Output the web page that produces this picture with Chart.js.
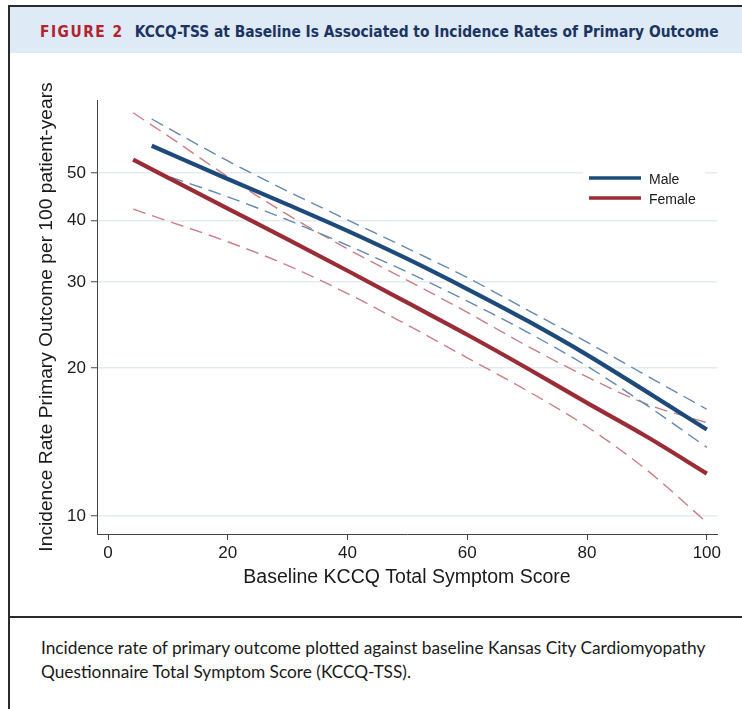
<!DOCTYPE html>
<html><head><meta charset="utf-8">
<script src="https://cdn.jsdelivr.net/npm/chart.js@4.4.1/dist/chart.umd.min.js"></script>
<style>
html,body{margin:0;padding:0;background:#fff;width:742px;height:709px;overflow:hidden;position:relative;}
#frameTop{position:absolute;left:8px;top:5px;width:734px;height:1.5px;background:#2b2b2b;z-index:5;}
#frameLeft{position:absolute;left:8px;top:5px;width:1.5px;height:704px;background:#2b2b2b;z-index:5;}
#band{position:absolute;left:9.5px;top:6.5px;width:733px;height:46px;background:#deeaf6;}
#title{position:absolute;left:40px;top:21px;font-family:"DejaVu Sans Condensed","DejaVu Sans";font-weight:bold;font-size:15px;white-space:nowrap;color:#1c3461;line-height:22px;}
#title .fig{color:#b3232f;letter-spacing:1.5px;}
#title .gap{display:inline-block;width:11px;}
#sep{position:absolute;left:8px;top:616px;width:734px;height:1.5px;background:#2b2b2b;z-index:5;}
#caption{position:absolute;left:41px;top:636px;font-family:Lato,"Open Sans",sans-serif;font-size:16px;line-height:24px;color:#1a1a1a;white-space:nowrap;}
#wrap{position:absolute;left:0;top:60px;width:742px;height:556px;z-index:1;}
</style>
</head>
<body>
<div id="frameTop"></div><div id="frameLeft"></div>
<div id="band"></div>
<div id="title"><span class="fig" id="figLabel">FIGURE 2</span><span class="gap"></span><span id="mainTitle">KCCQ-TSS at Baseline Is Associated to Incidence Rates of Primary Outcome</span></div>
<div id="sep"></div>
<div id="caption"><span id="cap1">Incidence rate of primary outcome plotted against baseline Kansas City Cardiomyopathy</span><br><span id="cap2">Questionnaire Total Symptom Score (KCCQ-TSS).</span></div>
<div id="wrap"><canvas id="c" width="742" height="556"></canvas></div>
<script>
// ---- data ----
const xTicks = [0, 20, 40, 60, 80, 100];
const yTicks = [10, 20, 30, 40, 50];

const xMale       = [7.3, 20, 30, 40, 50, 60, 70, 80, 90, 100];
const maleRate    = [56.8, 48.6, 43.1, 38.1, 33.4, 29.0, 25.0, 21.3, 17.9, 15.0];
const maleUpper   = [64.4, 52.9, 45.9, 40.1, 35.1, 30.6, 26.3, 22.6, 19.3, 16.5];
const maleLower   = [50.5, 44.7, 40.1, 35.6, 31.4, 27.4, 23.7, 20.2, 16.8, 13.8];

const xFemale     = [4.2, 10, 20, 30, 40, 50, 60, 70, 80, 90, 100];
const femaleRate  = [53.2, 48.9, 42.3, 36.6, 31.6, 27.2, 23.4, 20.0, 17.0, 14.5, 12.2];
const femaleUpper = [66.3, 59.5, 49.1, 41.1, 35.0, 30.2, 26.0, 22.2, 19.2, 16.9, 15.5];
const femaleLower = [42.2, 39.9, 36.2, 32.4, 28.4, 24.5, 21.0, 18.0, 15.2, 12.4, 9.7];

const seriesNames = ['Male', 'Female'];

// ---- styling ----
const MALE = '#1d4a7b', FEMALE = '#9a2c35';
const MALE_CI = '#6688b0', FEMALE_CI = '#c97f83';
const pts = (xs, ys) => xs.map((x, i) => ({x, y: ys[i]}));

const solid = (label, xs, ys, color) => ({
  label, data: pts(xs, ys), borderColor: color, backgroundColor: color,
  borderWidth: 4.2, pointRadius: 0, cubicInterpolationMode: 'monotone', fill: false, borderCapStyle: 'butt'
});
const dashed = (label, xs, ys, color) => ({
  label, data: pts(xs, ys), borderColor: color, backgroundColor: color,
  borderWidth: 1.4, borderDash: [13, 7], pointRadius: 0, cubicInterpolationMode: 'monotone', fill: false
});

const inLegend = {
  id: 'inLegend',
  afterDatasetsDraw(chart) {
    const {ctx, chartArea} = chart;
    const boxL = chartArea.right - 134, boxT = chartArea.top + 64;
    ctx.save();
    ctx.fillStyle = '#ffffff';
    ctx.fillRect(boxL, boxT, 122, 48);
    const cols = [MALE, FEMALE];
    seriesNames.forEach((name, i) => {
      const y = boxT + 14 + i * 20;
      ctx.strokeStyle = cols[i];
      ctx.lineWidth = 3.5;
      ctx.beginPath();
      ctx.moveTo(boxL + 6, y);
      ctx.lineTo(boxL + 58, y);
      ctx.stroke();
      ctx.fillStyle = '#1a1a1a';
      ctx.font = '14px "Liberation Sans", Arial, sans-serif';
      ctx.textBaseline = 'middle';
      ctx.textAlign = 'left';
      ctx.fillText(name, boxL + 66, y + 2);
    });
    ctx.restore();
  }
};

const bgPlugin = {
  id: 'bg',
  beforeDraw(chart) {
    const ctx = chart.ctx; ctx.save(); ctx.fillStyle = '#fff';
    ctx.fillRect(0, 0, chart.width, chart.height); ctx.restore();
  }
};

new Chart(document.getElementById('c'), {
  type: 'line',
  data: {
    datasets: [
      solid(seriesNames[0], xMale, maleRate, MALE),
      solid(seriesNames[1], xFemale, femaleRate, FEMALE),
      dashed('Male upper CI', xMale, maleUpper, MALE_CI),
      dashed('Male lower CI', xMale, maleLower, MALE_CI),
      dashed('Female upper CI', xFemale, femaleUpper, FEMALE_CI),
      dashed('Female lower CI', xFemale, femaleLower, FEMALE_CI)
    ]
  },
  options: {
    responsive: false, animation: false, devicePixelRatio: 1,
    layout: {padding: {left: 0, top: 40, right: 25, bottom: 0}},
    plugins: {legend: {display: false}, tooltip: {enabled: false}},
    scales: {
      x: {
        type: 'linear', min: -1.84, max: 101.7,
        afterBuildTicks: s => { s.ticks = xTicks.map(v => ({value: v})); },
        afterFit: s => { s.height = 82; },
        grid: {drawOnChartArea: false, tickLength: 6, tickColor: '#444', tickWidth: 1},
        border: {color: '#444', width: 1},
        ticks: {color: '#1a1a1a', font: {family: 'Liberation Sans', size: 17}, padding: 3, maxRotation: 0,
                callback: v => String(v)},
        title: {display: true, text: 'Baseline KCCQ Total Symptom Score', color: '#1a1a1a',
                font: {family: 'Liberation Sans', size: 19.5}, padding: {top: 0, bottom: 27}}
      },
      y: {
        type: 'logarithmic', min: 9.19, max: 70.4,
        afterBuildTicks: s => { s.ticks = yTicks.map(v => ({value: v})); },
        afterFit: s => { s.width = 97; },
        grid: {color: '#e3ecf1', lineWidth: 1.5, tickLength: 6, tickColor: '#444', tickWidth: 1},
        border: {color: '#444', width: 1},
        ticks: {color: '#1a1a1a', font: {family: 'Liberation Sans', size: 17}, padding: 5,
                callback: v => String(v)},
        title: {display: true, text: 'Incidence Rate Primary Outcome per 100 patient-years', color: '#1a1a1a',
                font: {family: 'Liberation Sans', size: 19.2}, padding: {top: 35.5, bottom: 0}}
      }
    }
  },
  plugins: [bgPlugin, inLegend]
});

// fit header / caption text widths to the reference layout
function fit(id, target) {
  const el = document.getElementById(id);
  const w = el.getBoundingClientRect().width;
  const fs = parseFloat(getComputedStyle(el).fontSize);
  return fs * target / w;
}
const tFs = fit('mainTitle', 584);
document.getElementById('title').style.fontSize = tFs + 'px';
const cFs = fit('cap1', 665);
document.getElementById('caption').style.fontSize = cFs + 'px';
</script>
</body></html>
